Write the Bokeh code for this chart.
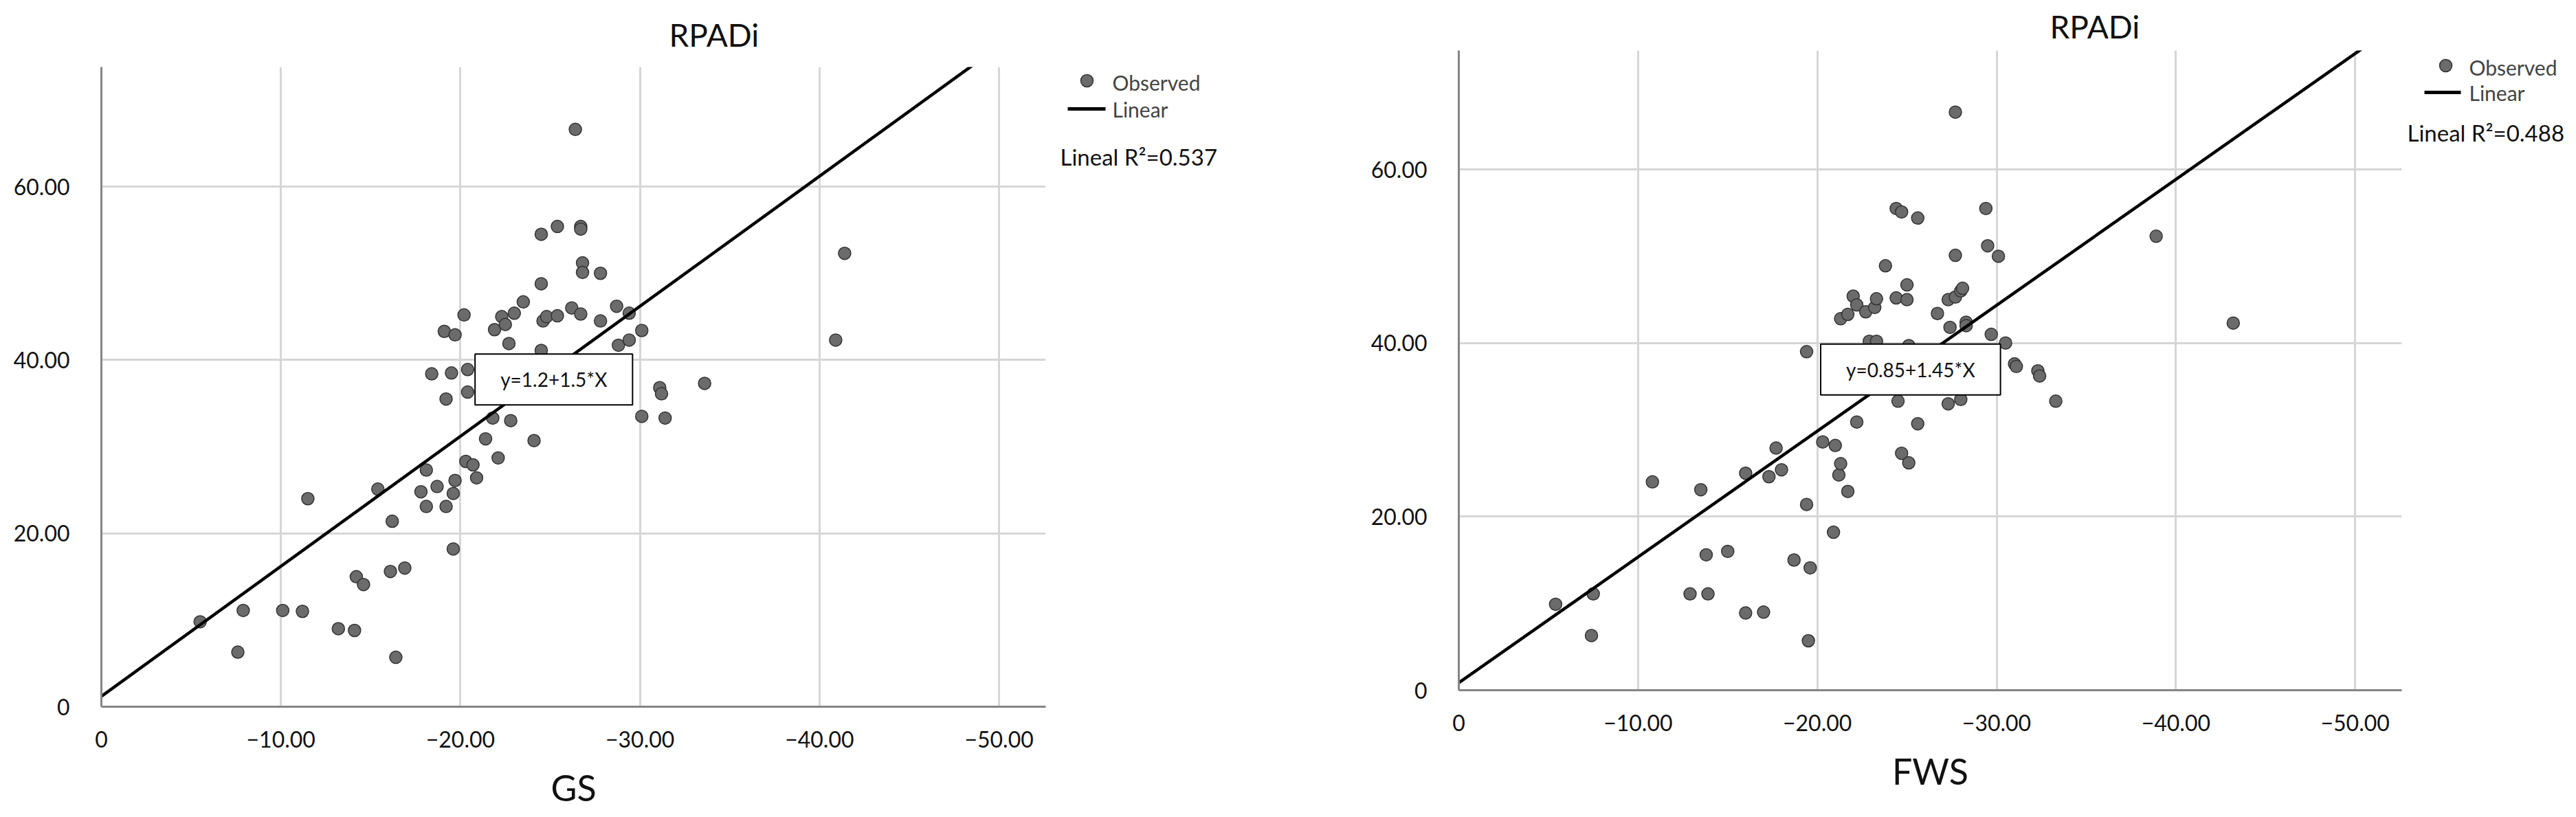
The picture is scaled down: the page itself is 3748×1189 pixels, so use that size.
from bokeh.plotting import figure
from bokeh.layouts import row
from bokeh.models import Range1d, FixedTicker, Label
from bokeh.embed import file_html
from bokeh.resources import INLINE
from bokeh.core.properties import value

# ---------------- data ----------------
title_text = "RPADi"
x_ticks = [0, -10, -20, -30, -40, -50]
x_tick_labels = ["0", "\u221210.00", "\u221220.00", "\u221230.00", "\u221240.00", "\u221250.00"]
y_ticks = [0, 20, 40, 60]
y_tick_labels = ["0", "20.00", "40.00", "60.00"]

gs_x = [-5.5, -7.6, -7.9, -10.1, -11.2, -11.5, -13.2, -14.1, -14.2, -14.6, -15.4, -16.1, -16.2,
        -16.4, -16.9, -17.8, -18.1, -18.1, -18.4, -18.7, -19.1, -19.2, -19.2, -19.5, -19.6, -19.6,
        -19.7, -19.7, -20.2, -20.3, -20.4, -20.4, -20.7, -20.9, -21.4, -21.8, -21.9, -22.1, -22.3,
        -22.5, -22.7, -22.8, -23.0, -23.5, -24.1, -24.5, -24.5, -24.6, -24.5, -24.8, -25.4, -25.4,
        -26.2, -26.4, -26.7, -26.7, -26.7, -26.8, -26.8, -27.8, -27.8, -28.7, -28.8, -29.4, -29.4,
        -30.1, -30.1, -31.1, -31.2, -31.4, -33.6, -40.9, -41.4]
gs_y = [9.8, 6.3, 11.1, 11.1, 11.0, 24.0, 9.0, 8.8, 15.0, 14.1, 25.1, 15.6, 21.4,
        5.7, 16.0, 24.8, 27.3, 23.1, 38.4, 25.4, 43.3, 35.5, 23.1, 38.5, 18.2, 24.6,
        42.9, 26.1, 45.2, 28.3, 38.9, 36.3, 27.9, 26.4, 30.9, 33.3, 43.5, 28.7, 45.0,
        44.1, 41.9, 33.0, 45.4, 46.7, 30.7, 54.5, 48.8, 44.5, 41.1, 45.0, 45.1, 55.4,
        46.0, 66.6, 55.4, 55.1, 45.3, 51.2, 50.1, 50.0, 44.5, 46.2, 41.7, 45.4, 42.3,
        43.4, 33.5, 36.8, 36.1, 33.3, 37.3, 42.3, 52.3]

fws_x = [-5.4, -7.4, -7.5, -10.8, -12.9, -13.5, -13.8, -13.9, -15.0, -16.0, -16.0, -17.0, -17.3,
         -17.7, -18.0, -18.7, -19.4, -19.4, -19.5, -19.6, -20.3, -20.9, -21.0, -21.2, -21.3, -21.3,
         -21.7, -21.7, -22.0, -22.2, -22.2, -22.7, -22.9, -23.2, -23.3, -23.3, -23.8, -24.4, -24.4,
         -24.5, -24.7, -24.7, -25.0, -25.0, -25.1, -25.1, -25.6, -25.6, -26.7, -27.3, -27.3, -27.4,
         -27.7, -27.7, -27.7, -28.0, -28.0, -28.1, -28.3, -28.3, -29.4, -29.5, -29.7, -30.1, -30.5,
         -31.0, -31.1, -32.3, -32.4, -33.3, -38.9, -43.2]
fws_y = [9.9, 6.3, 11.1, 24.0, 11.1, 23.1, 15.6, 11.1, 16.0, 8.9, 25.0, 9.0, 24.6,
         27.9, 25.4, 15.0, 39.0, 21.4, 5.7, 14.1, 28.6, 18.2, 28.2, 24.8, 26.1, 42.8,
         22.9, 43.3, 45.4, 30.9, 44.4, 43.6, 40.2, 44.1, 40.2, 45.1, 48.9, 55.5, 45.2,
         33.3, 55.1, 27.3, 46.7, 45.0, 26.2, 39.7, 54.4, 30.7, 43.4, 33.0, 45.0, 41.8,
         45.3, 66.6, 50.1, 33.5, 46.0, 46.3, 42.4, 42.0, 55.5, 51.2, 41.0, 50.0, 40.0,
         37.6, 37.3, 36.8, 36.2, 33.3, 52.3, 42.3]

gs_fit = (1.2, 1.5)
fws_fit = (0.85, 1.45)
gs_r2 = 0.537
fws_r2 = 0.488
legend_labels = ["Observed", "Linear"]

# ---------------- style / layout ----------------
FONT = "Lato"
TOP = 97          # border above frames
FRAME_H = 931
BOTTOM = 158
PAGE_H = TOP + FRAME_H + BOTTOM
SHIFT = -24       # right chart sits a little higher
PT_FILL = "#6b6b6b"
PT_LINE = "#333333"
AXIS_C = "#858585"
GRID_C = "#d6d6d6"


def make_main(xs, ys, fit, xlabel, width, border_lr, x_end, y_end, title_offset, title_standoff,
              box_xy):
    p = figure(width=width, height=PAGE_H, x_range=Range1d(0, x_end), y_range=Range1d(0, y_end),
               output_backend="svg", toolbar_location=None,
               min_border_left=border_lr[0], min_border_right=border_lr[1],
               min_border_top=TOP, min_border_bottom=BOTTOM)
    p.outline_line_color = None
    p.title.text = title_text
    p.title.text_font = FONT
    p.title.text_font_size = "46px"
    p.title.text_font_style = "normal"
    p.title.text_color = "#111111"
    p.title.align = "left"
    p.title.offset = title_offset
    p.title.standoff = title_standoff

    for ax, ticks, labels in ((p.xaxis, x_ticks, x_tick_labels), (p.yaxis, y_ticks, y_tick_labels)):
        ax.ticker = FixedTicker(ticks=ticks)
        ax.major_label_overrides = {t: l for t, l in zip(ticks, labels)}
        ax.axis_line_color = AXIS_C
        ax.axis_line_width = 3
        ax.major_tick_line_color = None
        ax.minor_tick_line_color = None
        ax.major_label_text_font = FONT
        ax.major_label_text_font_size = "32px"
        ax.major_label_text_color = "#111111"
    p.xaxis.major_label_standoff = 29
    p.yaxis.major_label_standoff = 40
    p.xaxis.axis_label = xlabel
    p.xaxis.axis_label_text_font = FONT
    p.xaxis.axis_label_text_font_size = "52px"
    p.xaxis.axis_label_text_font_style = "normal"
    p.xaxis.axis_label_text_color = "#111111"
    p.xaxis.axis_label_standoff = 24

    p.grid.grid_line_color = GRID_C
    p.grid.grid_line_width = 3

    a, b = fit
    line_x = [0, x_end]
    line_y = [a + b * abs(v) for v in line_x]
    p.scatter(xs, ys, size=18, fill_color=PT_FILL, line_color=PT_LINE, line_width=1.5)
    p.line(line_x, line_y, line_color="black", line_width=4.5)

    lab = Label(x=box_xy[0], y=box_xy[1], text=f"y={a}+{b}*X", text_align="center",
                text_baseline="middle", text_font=FONT, text_font_size="28px",
                text_color="#111111", background_fill_color="white",
                border_line_color="black", border_line_width=2, padding=(37, 20))
    p.add_layout(lab)
    return p


def make_legend(left, width, frame_top, geo, r2):
    # frame of this figure spans page y frame_top .. frame_top + FRAME_H
    p = figure(width=width, height=PAGE_H, x_range=Range1d(left, left + width),
               y_range=Range1d(frame_top + FRAME_H, frame_top), output_backend="svg",
               toolbar_location=None, x_axis_type=None, y_axis_type=None,
               min_border_left=0, min_border_right=0, min_border_top=TOP,
               min_border_bottom=BOTTOM)
    p.outline_line_color = None
    p.grid.visible = False
    mx, my = geo["marker"]
    p.scatter([mx], [my], size=18, fill_color=PT_FILL, line_color=PT_LINE, line_width=1.5)
    lx0, lx1, ly = geo["line"]
    p.line([lx0, lx1], [ly, ly], line_color="black", line_width=5)
    p.text(x=[geo["text_x"], geo["text_x"]], y=[geo["obs_y"], geo["lin_y"]], text=legend_labels,
           text_font=value(FONT), text_font_size=value("30px"), text_color="#444444",
           text_align="left", text_baseline="middle")
    rx, ry = geo["r2"]
    p.text(x=[rx], y=[ry], text=[f"Lineal R\u00b2={r2:.3f}"], text_font=value(FONT),
           text_font_size=value("33px"), text_color="#111111", text_align="left",
           text_baseline="middle")
    return p


main1 = make_main(gs_x, gs_y, gs_fit, "GS", 1531, (147, 10), -52.6, 73.8, 826, 39,
                  (-25.2, 37.75))
leg1 = make_legend(1531, 369, TOP, dict(marker=(1581, 117), line=(1553, 1608, 158), text_x=1618,
                                        obs_y=119, lin_y=158, r2=(1542, 227)), gs_r2)
main2 = make_main(fws_x, fws_y, fws_fit, "FWS", 1600, (222, 6), -52.6, 73.7, 860, 15,
                  (-25.2, 36.95))
leg2 = make_legend(3500, 244, TOP + SHIFT, dict(marker=(3558, 95), line=(3527, 3580, 134),
                                                text_x=3592, obs_y=97, lin_y=134,
                                                r2=(3502, 192)), fws_r2)
main2.margin = (SHIFT, 0, 0, 0)
leg2.margin = (SHIFT, 0, 0, 0)

layout = row(main1, leg1, main2, leg2)
open("out.html", "w").write(file_html(layout, INLINE))
